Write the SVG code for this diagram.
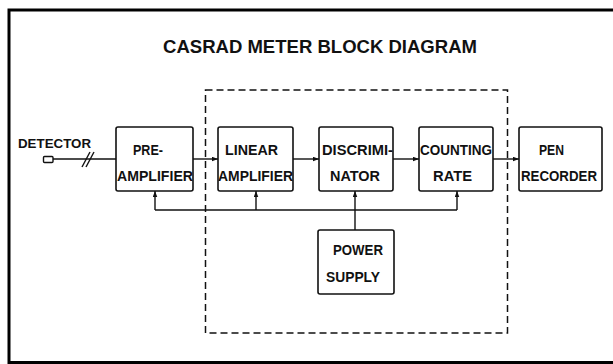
<svg xmlns="http://www.w3.org/2000/svg" width="613" height="364" viewBox="0 0 613 364">
<defs>
<style>
.frame{fill:none;stroke:#000;stroke-width:3}
.box{fill:#fff;stroke:#111;stroke-width:1.6}
.dash{fill:none;stroke:#111;stroke-width:1.5;stroke-dasharray:7 4}
.ln{fill:none;stroke:#111;stroke-width:1.4}
.t{font-family:"Liberation Sans",Arial,sans-serif;font-weight:bold;font-size:14px;fill:#111;text-anchor:middle}
.title{font-family:"Liberation Sans",Arial,sans-serif;font-weight:bold;font-size:18px;fill:#111;text-anchor:middle}
</style>
<marker id="ah" viewBox="0 0 8 6" refX="8" refY="3" markerWidth="6" markerHeight="5" orient="auto" markerUnits="userSpaceOnUse">
<path d="M0,0 L8,3 L0,6 Z" fill="#111"/>
</marker>
</defs>
<rect x="0" y="0" width="613" height="364" fill="#fff"/>
<path class="frame" d="M620,10 L9,10 L9,362.5 L620,362.5"/>
<text class="title" x="320" y="53" textLength="314" lengthAdjust="spacingAndGlyphs">CASRAD METER BLOCK DIAGRAM</text>
<rect class="dash" x="205.5" y="90" width="302" height="243"/>

<g id="connectors">
<line class="ln" x1="53" y1="159" x2="116" y2="159"/>
<line class="ln" x1="82" y1="167" x2="90" y2="152"/>
<line class="ln" x1="86" y1="167" x2="94" y2="152"/>
<line class="ln" x1="193" y1="159" x2="218" y2="159" marker-end="url(#ah)"/>
<line class="ln" x1="293" y1="159" x2="319" y2="159" marker-end="url(#ah)"/>
<line class="ln" x1="393" y1="159" x2="419" y2="159" marker-end="url(#ah)"/>
<line class="ln" x1="493" y1="159" x2="519" y2="159" marker-end="url(#ah)"/>
<line class="ln" x1="155" y1="210" x2="457" y2="210"/>
<line class="ln" x1="155" y1="210" x2="155" y2="191" marker-end="url(#ah)"/>
<line class="ln" x1="256" y1="210" x2="256" y2="191" marker-end="url(#ah)"/>
<line class="ln" x1="355" y1="230" x2="355" y2="191" marker-end="url(#ah)"/>
<line class="ln" x1="457" y1="210" x2="457" y2="191" marker-end="url(#ah)"/>
</g>

<g id="detector">
<rect x="43.5" y="156.5" width="9.5" height="6" rx="1" fill="#fff" stroke="#111" stroke-width="1.4"/>
<text class="t" x="54.5" y="148" font-size="13" textLength="73" lengthAdjust="spacingAndGlyphs" style="font-size:13px">DETECTOR</text>
</g>
<g id="preamplifier">
<rect class="box" x="116" y="127" width="77" height="64" rx="2"/>
<text class="t" x="148" y="155" textLength="30" lengthAdjust="spacingAndGlyphs">PRE-</text>
<text class="t" x="155" y="181" textLength="76" lengthAdjust="spacingAndGlyphs">AMPLIFIER</text>
</g>
<g id="linear-amplifier">
<rect class="box" x="218" y="127" width="75" height="64" rx="2"/>
<text class="t" x="251.5" y="155" textLength="53" lengthAdjust="spacingAndGlyphs">LINEAR</text>
<text class="t" x="255.5" y="181" textLength="75" lengthAdjust="spacingAndGlyphs">AMPLIFIER</text>
</g>
<g id="discriminator">
<rect class="box" x="319" y="127" width="74" height="64" rx="2"/>
<text class="t" x="357.5" y="155" textLength="71" lengthAdjust="spacingAndGlyphs">DISCRIMI-</text>
<text class="t" x="355" y="181" textLength="50" lengthAdjust="spacingAndGlyphs">NATOR</text>
</g>
<g id="counting-rate">
<rect class="box" x="419" y="127" width="74" height="64" rx="2"/>
<text class="t" x="456" y="155" textLength="72" lengthAdjust="spacingAndGlyphs">COUNTING</text>
<text class="t" x="452.5" y="181" textLength="39" lengthAdjust="spacingAndGlyphs">RATE</text>
</g>
<g id="pen-recorder">
<rect class="box" x="519" y="127" width="83" height="64" rx="2"/>
<text class="t" x="551.5" y="155" textLength="25" lengthAdjust="spacingAndGlyphs">PEN</text>
<text class="t" x="559" y="181" textLength="76" lengthAdjust="spacingAndGlyphs">RECORDER</text>
</g>
<g id="power-supply">
<rect class="box" x="318" y="230" width="76" height="64" rx="2"/>
<text class="t" x="358" y="255" textLength="50" lengthAdjust="spacingAndGlyphs">POWER</text>
<text class="t" x="353" y="282" textLength="54" lengthAdjust="spacingAndGlyphs">SUPPLY</text>
</g>
</svg>
